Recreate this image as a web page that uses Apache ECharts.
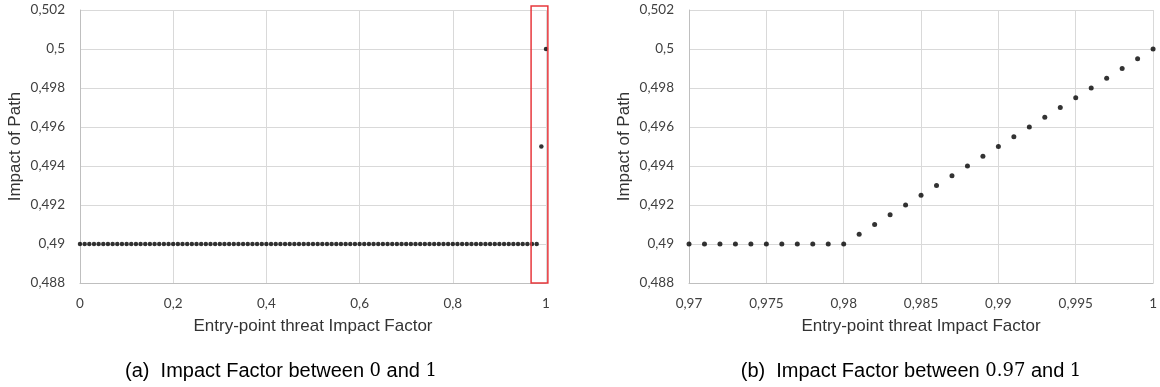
<!DOCTYPE html>
<html>
<head>
<meta charset="utf-8">
<script src="https://cdn.jsdelivr.net/npm/echarts@6/dist/echarts.min.js"></script>
<style>
html,body{margin:0;padding:0;background:#fff;}
#chart{width:1160px;height:387px;}
</style>
</head>
<body>
<div id="chart"></div>
<script>
// ---- Data ----
const leftX = [0,0.01,0.02,0.03,0.04,0.05,0.06,0.07,0.08,0.09,
  0.10,0.11,0.12,0.13,0.14,0.15,0.16,0.17,0.18,0.19,
  0.20,0.21,0.22,0.23,0.24,0.25,0.26,0.27,0.28,0.29,
  0.30,0.31,0.32,0.33,0.34,0.35,0.36,0.37,0.38,0.39,
  0.40,0.41,0.42,0.43,0.44,0.45,0.46,0.47,0.48,0.49,
  0.50,0.51,0.52,0.53,0.54,0.55,0.56,0.57,0.58,0.59,
  0.60,0.61,0.62,0.63,0.64,0.65,0.66,0.67,0.68,0.69,
  0.70,0.71,0.72,0.73,0.74,0.75,0.76,0.77,0.78,0.79,
  0.80,0.81,0.82,0.83,0.84,0.85,0.86,0.87,0.88,0.89,
  0.90,0.91,0.92,0.93,0.94,0.95,0.96,0.97,0.98,0.99,1.00];
const leftY = [0.49,0.49,0.49,0.49,0.49,0.49,0.49,0.49,0.49,0.49,
  0.49,0.49,0.49,0.49,0.49,0.49,0.49,0.49,0.49,0.49,
  0.49,0.49,0.49,0.49,0.49,0.49,0.49,0.49,0.49,0.49,
  0.49,0.49,0.49,0.49,0.49,0.49,0.49,0.49,0.49,0.49,
  0.49,0.49,0.49,0.49,0.49,0.49,0.49,0.49,0.49,0.49,
  0.49,0.49,0.49,0.49,0.49,0.49,0.49,0.49,0.49,0.49,
  0.49,0.49,0.49,0.49,0.49,0.49,0.49,0.49,0.49,0.49,
  0.49,0.49,0.49,0.49,0.49,0.49,0.49,0.49,0.49,0.49,
  0.49,0.49,0.49,0.49,0.49,0.49,0.49,0.49,0.49,0.49,
  0.49,0.49,0.49,0.49,0.49,0.49,0.49,0.49,0.49,0.495,0.5];

const rightX = [0.970,0.971,0.972,0.973,0.974,0.975,0.976,0.977,0.978,0.979,
  0.980,0.981,0.982,0.983,0.984,0.985,0.986,0.987,0.988,0.989,
  0.990,0.991,0.992,0.993,0.994,0.995,0.996,0.997,0.998,0.999,1.000];
const rightY = [0.49,0.49,0.49,0.49,0.49,0.49,0.49,0.49,0.49,0.49,
  0.49,0.4905,0.491,0.4915,0.492,0.4925,0.493,0.4935,0.494,0.4945,
  0.495,0.4955,0.496,0.4965,0.497,0.4975,0.498,0.4985,0.499,0.4995,0.5];

// highlight box on left chart (data coordinates)
const boxX = [0.968, 1.004];
const boxY = [0.488, 0.5022];

const xAxisTitle = 'Entry-point threat Impact Factor';
const yAxisTitle = 'Impact of Path';

// ---- Chart ----
const chart = echarts.init(document.getElementById('chart'), null, {renderer:'canvas'});

function fmt(v){
  const n = parseFloat(Number(v).toFixed(4));
  return String(n).replace('.', ',');
}

const tickFont = {color:'#404040', fontFamily:'Lato', fontSize:13.5};
const nameFont = {color:'#333', fontFamily:'Liberation Sans', fontSize:17};
const gridLine = {show:true, lineStyle:{color:'#d9d9d9', width:1}};
const axisLine = {show:true, lineStyle:{color:'#bfbfbf', width:1}};

function xAxis(idx, min, max, interval){
  return {
    gridIndex: idx, type:'value', min:min, max:max, interval:interval,
    axisLine: axisLine, axisTick:{show:false}, splitLine: gridLine,
    axisLabel: Object.assign({margin:14, formatter:fmt}, tickFont),
    name: xAxisTitle, nameLocation:'middle', nameGap:35, nameTextStyle: nameFont
  };
}
function yAxis(idx){
  return {
    gridIndex: idx, type:'value', min:0.488, max:0.502, interval:0.002,
    axisLine: axisLine, axisTick:{show:false}, splitLine: gridLine,
    axisLabel: Object.assign({margin:15, formatter:fmt}, tickFont),
    name: yAxisTitle, nameLocation:'middle', nameGap:56, nameTextStyle: nameFont
  };
}

const option = {
  animation:false,
  backgroundColor:'#fff',
  grid:[
    {left:80, top:10, width:466, height:273},
    {left:689, top:10, width:467, height:273}
  ],
  xAxis:[xAxis(0, 0, 1, 0.2), xAxis(1, 0.97, 1, 0.005)],
  yAxis:[yAxis(0), yAxis(1)],
  series:[
    {type:'scatter', xAxisIndex:0, yAxisIndex:0, symbolSize:4.5,
     itemStyle:{color:'#000'}, data: leftX.map((x,i)=>[x,leftY[i]])},
    {type:'scatter', xAxisIndex:1, yAxisIndex:1, symbolSize:5,
     itemStyle:{color:'#000'}, data: rightX.map((x,i)=>[x,rightY[i]])}
  ]
};
chart.setOption(option);

// red highlight rectangle derived from data coords
const p1 = chart.convertToPixel({gridIndex:0}, [boxX[0], boxY[1]]);
const p2 = chart.convertToPixel({gridIndex:0}, [boxX[1], boxY[0]]);

const capRich = {
  s:{fontFamily:'Liberation Sans', fontSize:20, color:'#111'},
  m:{fontFamily:'DejaVu Serif', fontSize:18, color:'#111'}
};
chart.setOption({
  graphic:[
    {type:'rect', shape:{x:p1[0], y:p1[1], width:p2[0]-p1[0], height:p2[1]-p1[1]},
     style:{fill:'none', stroke:'#e8383d', lineWidth:1.5}, z:100},
    {type:'text', x:281, y:371, style:{
      text:'{s|(a)  Impact Factor between }{m|0}{s| and }{m|1}',
      rich:capRich, align:'center', verticalAlign:'middle'}},
    {type:'text', x:911, y:371, style:{
      text:'{s|(b)  Impact Factor between }{m|0.97}{s| and }{m|1}',
      rich:capRich, align:'center', verticalAlign:'middle'}}
  ]
});
</script>
</body>
</html>
